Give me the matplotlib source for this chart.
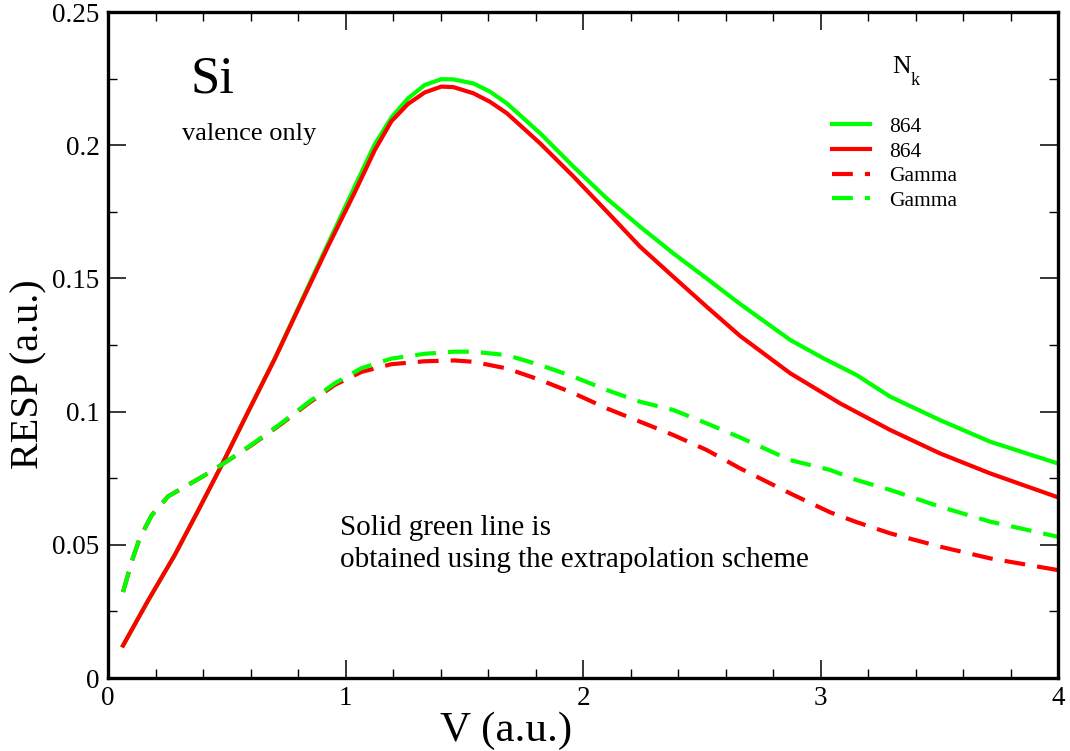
import numpy as np
import matplotlib
matplotlib.use("Agg")
import matplotlib.pyplot as plt
from matplotlib.ticker import MultipleLocator, FuncFormatter

plt.rcParams['font.family'] = ['Liberation Serif', 'DejaVu Serif']

# 864 k-points, extrapolated
v_ext = [0.063, 0.168, 0.281, 0.379, 0.477, 0.589, 0.702, 0.814, 0.926, 1.039, 1.123,
         1.193, 1.263, 1.333, 1.403, 1.454, 1.538, 1.608, 1.679, 1.819, 1.96, 2.1,
         2.24, 2.38, 2.52, 2.661, 2.872, 3.012, 3.152, 3.293, 3.503, 3.714, 4.0]
resp_ext = [0.0122, 0.029, 0.0462, 0.0628, 0.0797, 0.0998, 0.1200, 0.1415, 0.163,
            0.1846, 0.2004, 0.2104, 0.2176, 0.2226, 0.2248, 0.2247, 0.2232, 0.2201,
            0.2157, 0.2045, 0.1919, 0.180, 0.1694, 0.1594, 0.150, 0.1404, 0.1269,
            0.120, 0.1137, 0.1056, 0.0968, 0.0887, 0.0805]

# 864 k-points
v_864 = [0.063, 0.168, 0.281, 0.379, 0.477, 0.589, 0.702, 0.814, 0.926, 1.039, 1.123,
         1.193, 1.263, 1.333, 1.403, 1.454, 1.538, 1.608, 1.679, 1.819, 1.96, 2.1,
         2.24, 2.38, 2.52, 2.661, 2.872, 3.082, 3.293, 3.503, 3.714, 4.0]
resp_864 = [0.0122, 0.029, 0.0462, 0.0628, 0.0797, 0.0998, 0.1198, 0.141, 0.162,
            0.1824, 0.1982, 0.209, 0.2155, 0.2198, 0.2220, 0.2218, 0.2195, 0.2163,
            0.212, 0.2007, 0.1882, 0.1751, 0.1619, 0.1506, 0.1394, 0.1284, 0.1144,
            0.1031, 0.0931, 0.0843, 0.0768, 0.0678]

# Gamma point only
v_gam = [0.063, 0.105, 0.133, 0.183, 0.253, 0.323, 0.407, 0.484, 0.604, 0.73, 0.842,
         0.954, 1.067, 1.193, 1.333, 1.46, 1.538, 1.679, 1.819, 1.96, 2.1, 2.24,
         2.38, 2.52, 2.661, 2.872, 3.04, 3.152, 3.293, 3.503, 3.714, 4.0]
resp_gam_r = [0.0323, 0.0452, 0.0524, 0.061, 0.0682, 0.0718, 0.0761, 0.0804, 0.0874,
              0.0954, 0.1030, 0.1100, 0.1149, 0.1178, 0.1189, 0.1192, 0.1187, 0.1162,
              0.1119, 0.1069, 0.1012, 0.0962, 0.0912, 0.0856, 0.0787, 0.0693, 0.0622,
              0.0585, 0.0543, 0.0493, 0.0449, 0.0405]
resp_gam_g = [0.0323, 0.0452, 0.0524, 0.061, 0.0682, 0.0718, 0.0761, 0.0804, 0.0876,
              0.0957, 0.1034, 0.1106, 0.1163, 0.1199, 0.1217, 0.1225, 0.1225, 0.1212,
              0.1175, 0.1131, 0.1081, 0.1037, 0.1006, 0.0956, 0.0903, 0.0818, 0.0781,
              0.0743, 0.0706, 0.0643, 0.0587, 0.053]

green = (0, 1, 0)
red = (1, 0, 0)
dash = (0, (5, 2.9))

fig = plt.figure(figsize=(10.7, 7.51), dpi=100)
ax = fig.add_axes([0.101, 0.0972, 0.8879, 0.8868])

ax.plot(v_ext, resp_ext, color=green, lw=3, label='864')
ax.plot(v_864, resp_864, color=red, lw=3, label='864')
ax.plot(v_gam, resp_gam_r, color=red, lw=3, ls=dash, label='Gamma')
ax.plot(v_gam, resp_gam_g, color=green, lw=3, ls=dash, label='Gamma')

ax.set_xlim(0, 4)
ax.set_ylim(0, 0.25)
ax.xaxis.set_major_locator(MultipleLocator(1))
ax.xaxis.set_minor_locator(MultipleLocator(0.2))
ax.yaxis.set_major_locator(MultipleLocator(0.05))
ax.yaxis.set_minor_locator(MultipleLocator(0.025))
ax.yaxis.set_major_formatter(FuncFormatter(lambda v, p: ('%.2f' % v).rstrip('0').rstrip('.') if v else '0'))
ax.tick_params(which='both', direction='in', top=True, right=True, labelsize=19.5)
ax.tick_params(which='major', length=13, width=1.1)
ax.tick_params(which='minor', length=6.5, width=1.0)
ax.tick_params(axis='x', pad=6)
ax.tick_params(axis='y', pad=6)
for s in ax.spines.values():
    s.set_linewidth(2.4)

ax.set_xlabel('V (a.u.)', fontsize=31)
ax.set_ylabel('RESP (a.u.)', fontsize=29)
ax.xaxis.set_label_coords(0.419, -0.051)
ax.yaxis.set_label_coords(-0.064, 0.456)

ax.text(0.345, 0.2196, 'Si', fontsize=38, va='baseline')
ax.text(0.312, 0.202, 'valence only', fontsize=19, va='baseline')
ax.text(0.977, 0.0537, 'Solid green line is', fontsize=21, va='baseline')
ax.text(0.977, 0.0417, 'obtained using the extrapolation scheme', fontsize=21, va='baseline')
ax.text(3.30, 0.2270, 'N', fontsize=18.5, va='baseline')
ax.text(3.378, 0.2226, 'k', fontsize=13, va='baseline')

ax.legend(loc='upper left', bbox_to_anchor=(0.762, 0.8425), frameon=False,
          fontsize=15.5, handlelength=1.77, handletextpad=0.88, labelspacing=0.21,
          borderpad=0, borderaxespad=0)

fig.savefig('out.png', dpi=100)
